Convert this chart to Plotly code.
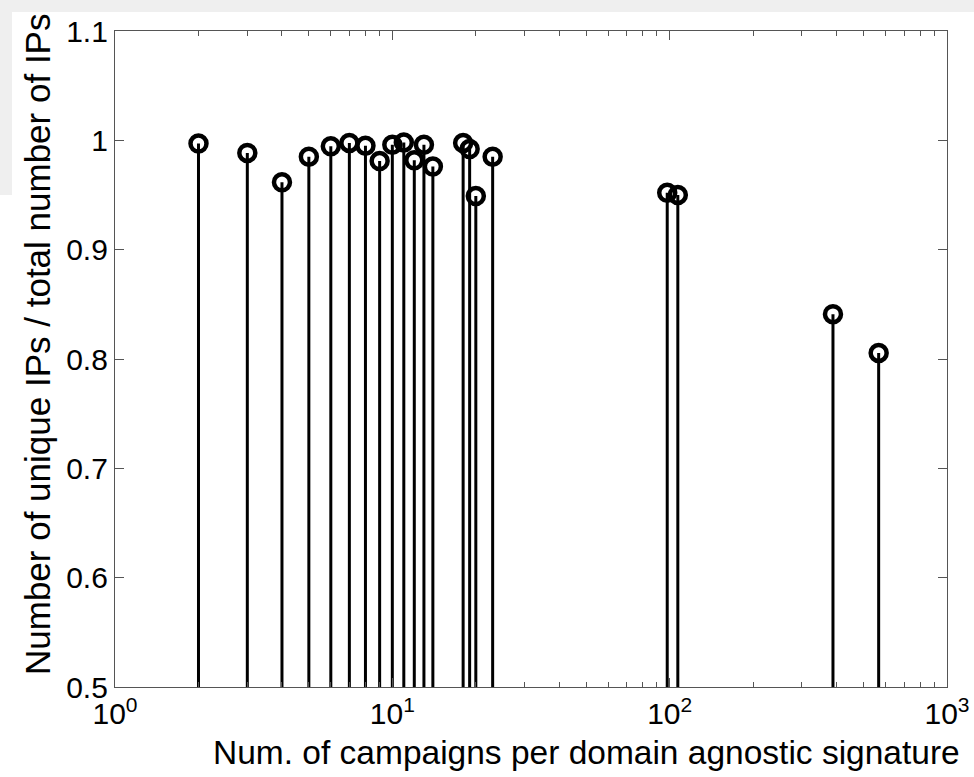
import plotly.graph_objects as go

# Data
campaigns = [2, 3, 4, 5, 6, 7, 8, 9, 10, 11, 12, 13, 14, 18, 19, 20, 23, 98, 107, 388, 567]
unique_ratio = [0.997, 0.9885, 0.9616, 0.985, 0.9945, 0.9976, 0.995, 0.981, 0.996, 0.998,
                0.9817, 0.996, 0.976, 0.9976, 0.992, 0.949, 0.985, 0.952, 0.950, 0.841, 0.8055]
x_tick_vals = [1, 10, 100, 1000]
x_tick_text = ["10<sup>0</sup>", "10<sup>1</sup>", "10<sup>2</sup>", "10<sup>3</sup>"]
y_tick_vals = [0.5, 0.6, 0.7, 0.8, 0.9, 1.0, 1.1]
y_tick_text = ["0.5", "0.6", "0.7", "0.8", "0.9", "1", "1.1"]
y_base = 0.5

FONT = "Liberation Sans, Arial, Helvetica, sans-serif"

stem_x, stem_y = [], []
for xv, yv in zip(campaigns, unique_ratio):
    stem_x += [xv, xv, None]
    stem_y += [y_base, yv, None]

minor_vals = [m * 10 ** d for d in range(0, 3) for m in range(2, 10)]

fig = go.Figure()
fig.add_trace(go.Scatter(x=stem_x, y=stem_y, mode="lines",
                         line=dict(color="black", width=3), hoverinfo="skip",
                         showlegend=False, cliponaxis=False))
fig.add_trace(go.Scatter(x=campaigns, y=unique_ratio, mode="markers",
                         marker=dict(symbol="circle-open", size=16, color="black",
                                     line=dict(width=4.5, color="black")),
                         showlegend=False, cliponaxis=False))

W, H = 974, 777
L, R, T, B = 115, 27, 31, 90
pw, ph = W - L - R, H - T - B

def px_to_paper_x(px):
    return (px - L) / pw

def px_to_paper_y(py):
    return (H - B - py) / ph

fig.update_layout(
    width=W, height=H, autosize=False,
    margin=dict(l=L, r=R, t=T, b=B, autoexpand=False),
    paper_bgcolor="white", plot_bgcolor="white",
    font=dict(family=FONT, size=30, color="black"),
    xaxis=dict(type="log", range=[0, 3], tickmode="array",
               tickvals=x_tick_vals, ticktext=x_tick_text,
               ticks="inside", ticklen=9, tickcolor="#555", tickwidth=1,
               showline=True, linecolor="#555", linewidth=1.2, mirror="ticks",
               showgrid=False, zeroline=False, automargin=False,
               tickfont=dict(family=FONT, size=30),
               minor=dict(tickmode="array", tickvals=minor_vals, ticks="inside",
                          ticklen=5, tickcolor="#555", showgrid=False)),
    yaxis=dict(range=[0.5, 1.1], tickmode="array",
               tickvals=y_tick_vals, ticktext=y_tick_text,
               ticks="inside", ticklen=9, tickcolor="#555", tickwidth=1,
               showline=True, linecolor="#555", linewidth=1.2, mirror="ticks",
               showgrid=False, zeroline=False, automargin=False,
               tickfont=dict(family=FONT, size=30)),
    annotations=[
        dict(text="Num. of campaigns per domain agnostic signature",
             xref="paper", yref="paper", x=px_to_paper_x(962), y=px_to_paper_y(752),
             xanchor="right", yanchor="middle", showarrow=False,
             font=dict(family=FONT, size=33.5)),
        dict(text="Number of unique IPs / total number of IPs",
             xref="paper", yref="paper", x=px_to_paper_x(37), y=px_to_paper_y(345),
             xanchor="center", yanchor="middle", textangle=-90, showarrow=False,
             font=dict(family=FONT, size=35)),
    ],
    shapes=[
        dict(type="rect", xref="paper", yref="paper", layer="below",
             x0=px_to_paper_x(0), x1=px_to_paper_x(W), y0=px_to_paper_y(12), y1=px_to_paper_y(0),
             fillcolor="#efefef", line=dict(width=0)),
        dict(type="rect", xref="paper", yref="paper", layer="below",
             x0=px_to_paper_x(0), x1=px_to_paper_x(12), y0=px_to_paper_y(195), y1=px_to_paper_y(0),
             fillcolor="#efefef", line=dict(width=0)),
    ],
)

post = (
    "document.documentElement.style.margin='0';"
    "document.documentElement.style.overflow='hidden';"
    "document.body.style.margin='0';document.body.style.padding='0';"
    "document.body.style.overflow='hidden';"
    "Plotly.relayout('{plot_id}', {width: 974, height: 777});"
)

fig.write_html("out.html", config={"displayModeBar": False, "responsive": False},
               post_script=post)
